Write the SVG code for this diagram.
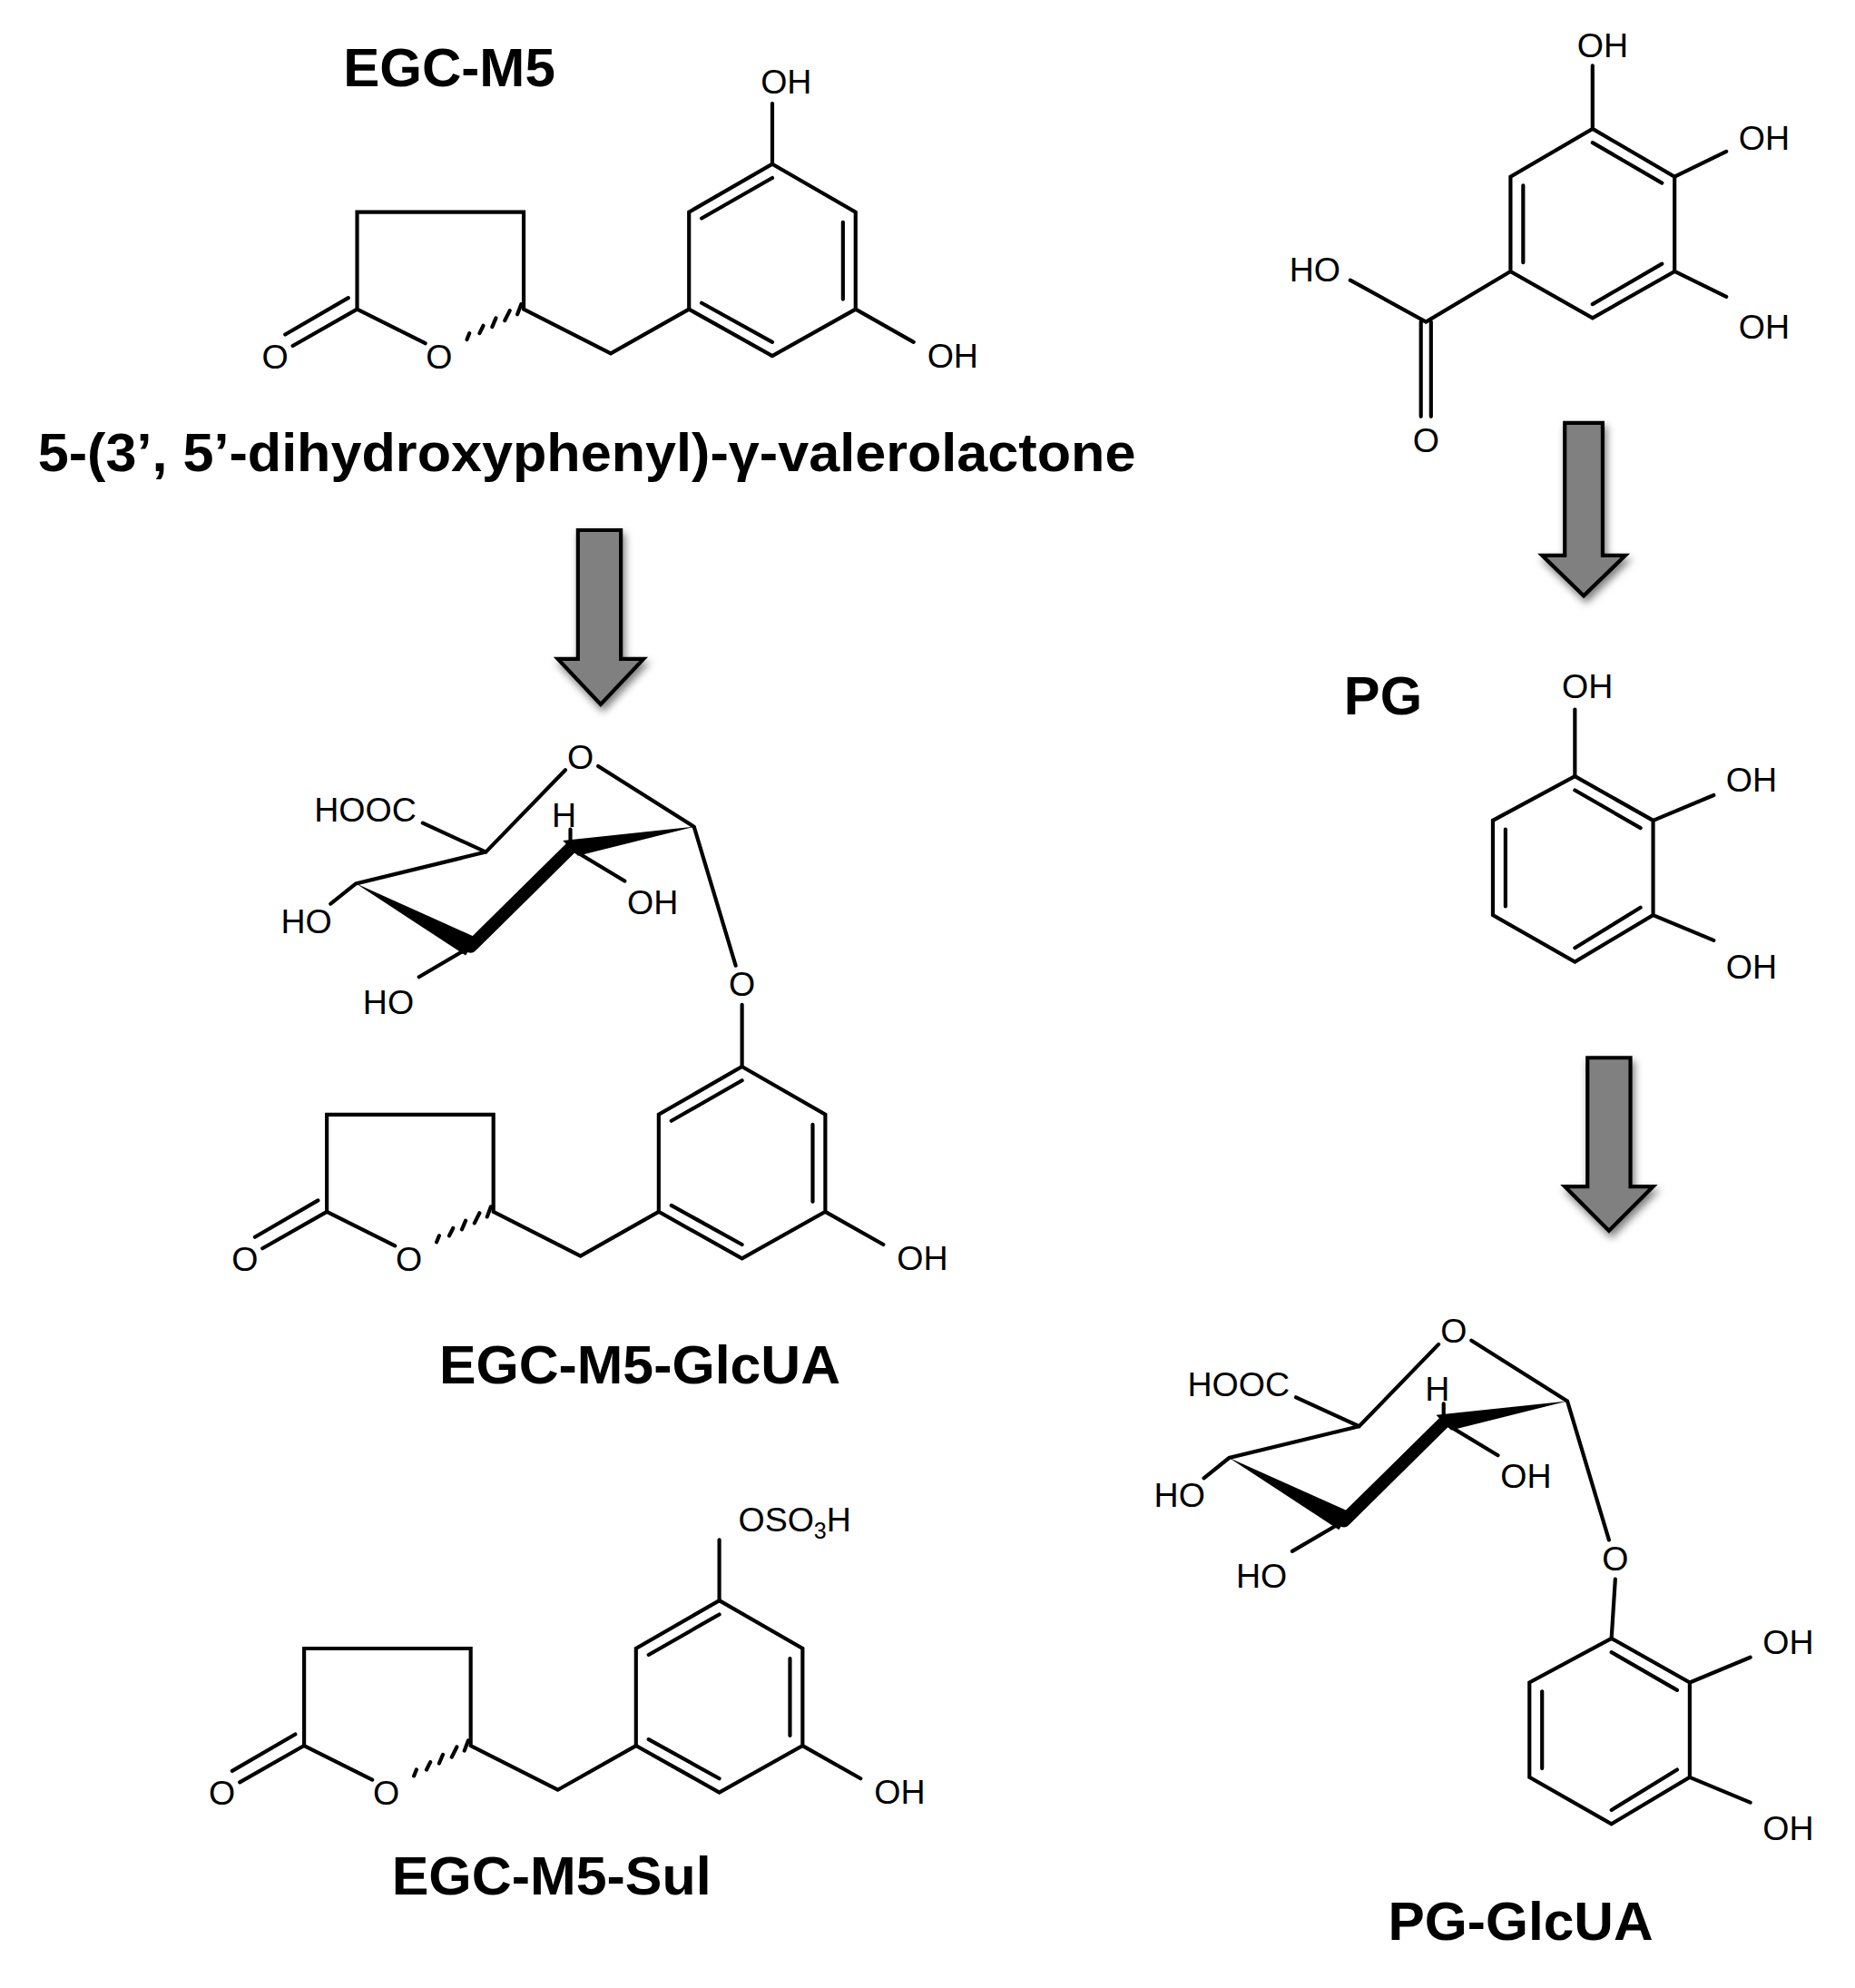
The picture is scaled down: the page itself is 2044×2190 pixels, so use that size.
<svg xmlns="http://www.w3.org/2000/svg" width="2044" height="2190" viewBox="0 0 2044 2190">
<style>
.b{stroke:#000;stroke-width:3;fill:none;stroke-linecap:round}
.t{font-family:"Liberation Sans",Arial,sans-serif;font-size:27px;fill:#000}
.L{font-family:"Liberation Sans",Arial,sans-serif;font-size:42px;font-weight:bold;fill:#000;text-anchor:middle}
.ar{fill:#808080;stroke:#000;stroke-width:3;filter:url(#sh)}
.w{fill:#000}
</style>
<defs>
<filter id="sh" x="-30%" y="-20%" width="160%" height="150%"><feDropShadow dx="2" dy="4" stdDeviation="3" flood-color="#000" flood-opacity="0.5"/></filter>
<g id="lacbz">
<path class="b" d="M283,245 L283,168 L415,168 L415,245 M283,245 L337,272 M283,245 L232,274 M276,236 L226,265 M415,245 L484,280 L546,245"/>
<path class="b" d="M410,249 L413,241 M400,254 L404,246 M390,259 L393,252 M380,264 L383,258 M370,269 L372,264"/>
<text class="t" x="348" y="292" text-anchor="middle">O</text>
<text class="t" x="218" y="292" text-anchor="middle">O</text>
<path class="b" d="M612,130 L678,168 L678,245 L612,282 L546,245 L546,168 Z M556,173 L612,141 M668,176 L668,237 M556,240 L612,271 M678,245 L724,271"/>
<text class="t" x="755" y="291" text-anchor="middle">OH</text>
</g>
<g id="sugar">
<path class="b" d="M474,607 L550,655 M448,610 L385,675 L335,652 M385,675 L282,700 L262,716 M373,750 L332,774 M452,672 L452,657 M452,672 L495,698 M550,655 L583,765"/>
<polygon class="w" points="282,700 369,757 378,743"/>
<path d="M373,750 L452,672" style="stroke:#000;stroke-width:10;stroke-linecap:round"/>
<polygon class="w" points="446,666 458,678 550,655"/>
<text class="t" x="460" y="609" text-anchor="middle">O</text>
<text class="t" x="330" y="651" text-anchor="end">HOOC</text>
<text class="t" x="447" y="655" text-anchor="middle">H</text>
<text class="t" x="497" y="724">OH</text>
<text class="t" x="263" y="739" text-anchor="end">HO</text>
<text class="t" x="328" y="803" text-anchor="end">HO</text>
<text class="t" x="588" y="789" text-anchor="middle">O</text>
</g>
<g id="pgring">
<path class="b" d="M1248,615 L1310,650 L1310,725 L1248,762 L1183,725 L1183,650 Z M1248,626 L1300,656 M1300,719 L1248,751 M1193,657 L1193,718 M1310,650 L1358,630 M1310,725 L1358,745"/>
<text class="t" x="1388" y="627" text-anchor="middle">OH</text>
<text class="t" x="1388" y="775" text-anchor="middle">OH</text>
</g>
</defs>
<rect width="2044" height="2190" fill="#fff"/>
<g transform="scale(1.3905)">
<g id="connectors">
<polygon class="ar" points="458,420 492,420 492,522 510,522 476,558 442,522 458,522"/>
<polygon class="ar" points="1240,335 1270,335 1270,440 1288,440 1255,472 1222,440 1240,440"/>
<polygon class="ar" points="1258,838 1292,838 1292,940 1310,940 1275,975 1240,940 1258,940"/>
</g>
<g id="egcm5">
<text class="L" x="356" y="68" textLength="168" lengthAdjust="spacingAndGlyphs">EGC-M5</text>
<use href="#lacbz"/>
<path class="b" d="M612,130 L612,82"/>
<text class="t" x="623" y="74" text-anchor="middle">OH</text>
<text class="L" x="465" y="373" textLength="870" lengthAdjust="spacingAndGlyphs">5-(3’, 5’-dihydroxyphenyl)-γ-valerolactone</text>
</g>
<g id="egcm5glcua">
<use href="#sugar"/>
<path class="b" d="M588,796 L588,845"/>
<use href="#lacbz" transform="translate(-24,715)"/>
<text class="L" x="507" y="1096" textLength="318" lengthAdjust="spacingAndGlyphs">EGC-M5-GlcUA</text>
</g>
<g id="egcm5sul">
<use href="#lacbz" transform="translate(-42,1138)"/>
<path class="b" d="M570,1268 L570,1220"/>
<text class="t" x="585" y="1213">OSO<tspan font-size="18" dy="6">3</tspan><tspan dy="-6">H</tspan></text>
<text class="L" x="437" y="1501" textLength="253" lengthAdjust="spacingAndGlyphs">EGC-M5-Sul</text>
</g>
<g id="gallic">
<path class="b" d="M1262,102 L1327,140 L1327,215 L1262,252 L1197,215 L1197,140 Z M1262,113 L1317,145 M1317,209 L1262,241 M1207,147 L1207,208 M1262,102 L1262,52 M1327,140 L1368,120 M1327,215 L1368,235 M1197,215 L1130,255 L1070,222 M1126,255 L1126,330 M1134,255 L1134,330"/>
<text class="t" x="1270" y="45" text-anchor="middle">OH</text>
<text class="t" x="1398" y="119" text-anchor="middle">OH</text>
<text class="t" x="1398" y="268" text-anchor="middle">OH</text>
<text class="t" x="1042" y="223" text-anchor="middle">HO</text>
<text class="t" x="1130" y="358" text-anchor="middle">O</text>
</g>
<g id="pg">
<text class="L" x="1096" y="566" textLength="62" lengthAdjust="spacingAndGlyphs">PG</text>
<use href="#pgring"/>
<path class="b" d="M1248,615 L1248,562"/>
<text class="t" x="1258" y="553" text-anchor="middle">OH</text>
</g>
<g id="pgglcua">
<use href="#sugar" transform="translate(692,455)"/>
<path class="b" d="M1280,1251 L1277,1298"/>
<use href="#pgring" transform="translate(29,683)"/>
<text class="L" x="1205" y="1537" textLength="210" lengthAdjust="spacingAndGlyphs">PG-GlcUA</text>
</g>
</g>
</svg>
